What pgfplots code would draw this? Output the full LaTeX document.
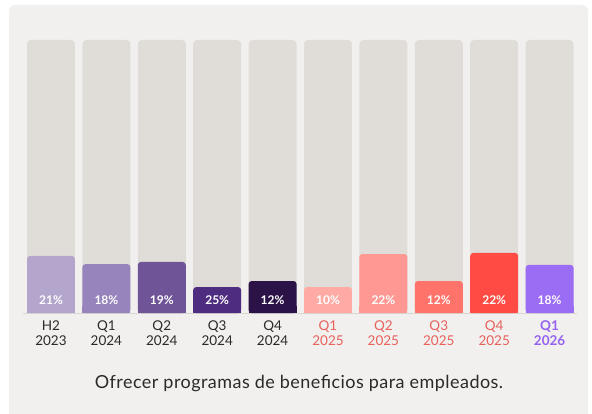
\documentclass[border=0pt]{standalone}
\usepackage{fontspec}
\setmainfont{Lato}
\newfontfamily\capfont[LetterSpace=2.5]{Lato}
\usepackage{pgfplots}
\pgfplotsset{compat=1.18}
\definecolor{panel}{HTML}{F1F0EE}
\definecolor{graybar}{HTML}{E0DDD9}
\definecolor{basecol}{HTML}{D9D6D2}
\definecolor{cA}{HTML}{B4A5CC}
\definecolor{cB}{HTML}{9884BC}
\definecolor{cC}{HTML}{6F5598}
\definecolor{cD}{HTML}{4E2C80}
\definecolor{cE}{HTML}{2B1347}
\definecolor{cF}{HTML}{FFAAA5}
\definecolor{cG}{HTML}{FF9893}
\definecolor{cH}{HTML}{FF736B}
\definecolor{cI}{HTML}{FF4B44}
\definecolor{cJ}{HTML}{9B6CF4}
\definecolor{txtdark}{HTML}{2A2A2A}
\definecolor{red25}{HTML}{E8615C}
\definecolor{pur26}{HTML}{9563EE}
\newcommand{\colbar}[3]{%
  \addplot[ybar, bar width=0.866, bar shift=0pt, fill=#3, draw=none, rounded corners=3pt] coordinates {(#1,#2)};
  \addplot[ybar, bar width=0.866, bar shift=0pt, fill=#3, draw=none] coordinates {(#1,2.5)};
}
\begin{document}
\begin{tikzpicture}[x=1pt,y=1pt]
\useasboundingbox (0,0) rectangle (592,413);
\fill[white] (0,0) rectangle (592,413);
\fill[panel, rounded corners=6pt] (9,-10) rectangle (588,408);
\begin{axis}[
  at={(23.3pt,100pt)}, anchor=south west,
  scale only axis, width=554pt, height=273pt,
  xmin=-0.5, xmax=9.5, ymin=0, ymax=100,
  axis x line=bottom, axis y line=none,
  axis line style={-, draw=basecol, line width=0.8pt},
  ytick=\empty,
  xtick={0,...,9},
  major tick length=0pt, tick style={draw=none},
  xticklabel style={align=center, font=\fontsize{13.5}{15.5}\selectfont, yshift=-4pt},
  xticklabels={
    {\textcolor{txtdark}{H2}\\\textcolor{txtdark}{2023}},
    {\textcolor{txtdark}{Q1}\\\textcolor{txtdark}{2024}},
    {\textcolor{txtdark}{Q2}\\\textcolor{txtdark}{2024}},
    {\textcolor{txtdark}{Q3}\\\textcolor{txtdark}{2024}},
    {\textcolor{txtdark}{Q4}\\\textcolor{txtdark}{2024}},
    {\textcolor{red25}{Q1}\\\textcolor{red25}{2025}},
    {\textcolor{red25}{Q2}\\\textcolor{red25}{2025}},
    {\textcolor{red25}{Q3}\\\textcolor{red25}{2025}},
    {\textcolor{red25}{Q4}\\\textcolor{red25}{2025}},
    {\textcolor{pur26}{\bfseries Q1}\\\textcolor{pur26}{\bfseries 2026}}
  },
  clip=false,
]
\addplot[ybar, bar width=0.866, bar shift=0pt, fill=graybar, draw=none, rounded corners=4pt]
  coordinates {(0,100)(1,100)(2,100)(3,100)(4,100)(5,100)(6,100)(7,100)(8,100)(9,100)};
\colbar{0}{20.9}{cA}
\colbar{1}{17.9}{cB}
\colbar{2}{18.7}{cC}
\colbar{3}{9.5}{cD}
\colbar{4}{11.7}{cE}
\colbar{5}{9.5}{cF}
\colbar{6}{21.6}{cG}
\colbar{7}{11.7}{cH}
\colbar{8}{22.0}{cI}
\colbar{9}{17.6}{cJ}
\addplot[draw=none, mark=none, nodes near coords={\pgfplotspointmeta\%},
  point meta=explicit symbolic,
  nodes near coords style={anchor=center, text=white, font=\bfseries\fontsize{12}{14}\selectfont}]
  table[meta=lab] {
x y lab
0 4.8 21
1 4.8 18
2 4.8 19
3 4.8 25
4 4.8 12
5 4.8 10
6 4.8 22
7 4.8 12
8 4.8 22
9 4.8 18
};
\end{axis}
\node[font=\capfont\fontsize{18}{21}\selectfont, text=txtdark] at (299,29) {Ofrecer programas de beneficios para empleados.};
\end{tikzpicture}
\end{document}
